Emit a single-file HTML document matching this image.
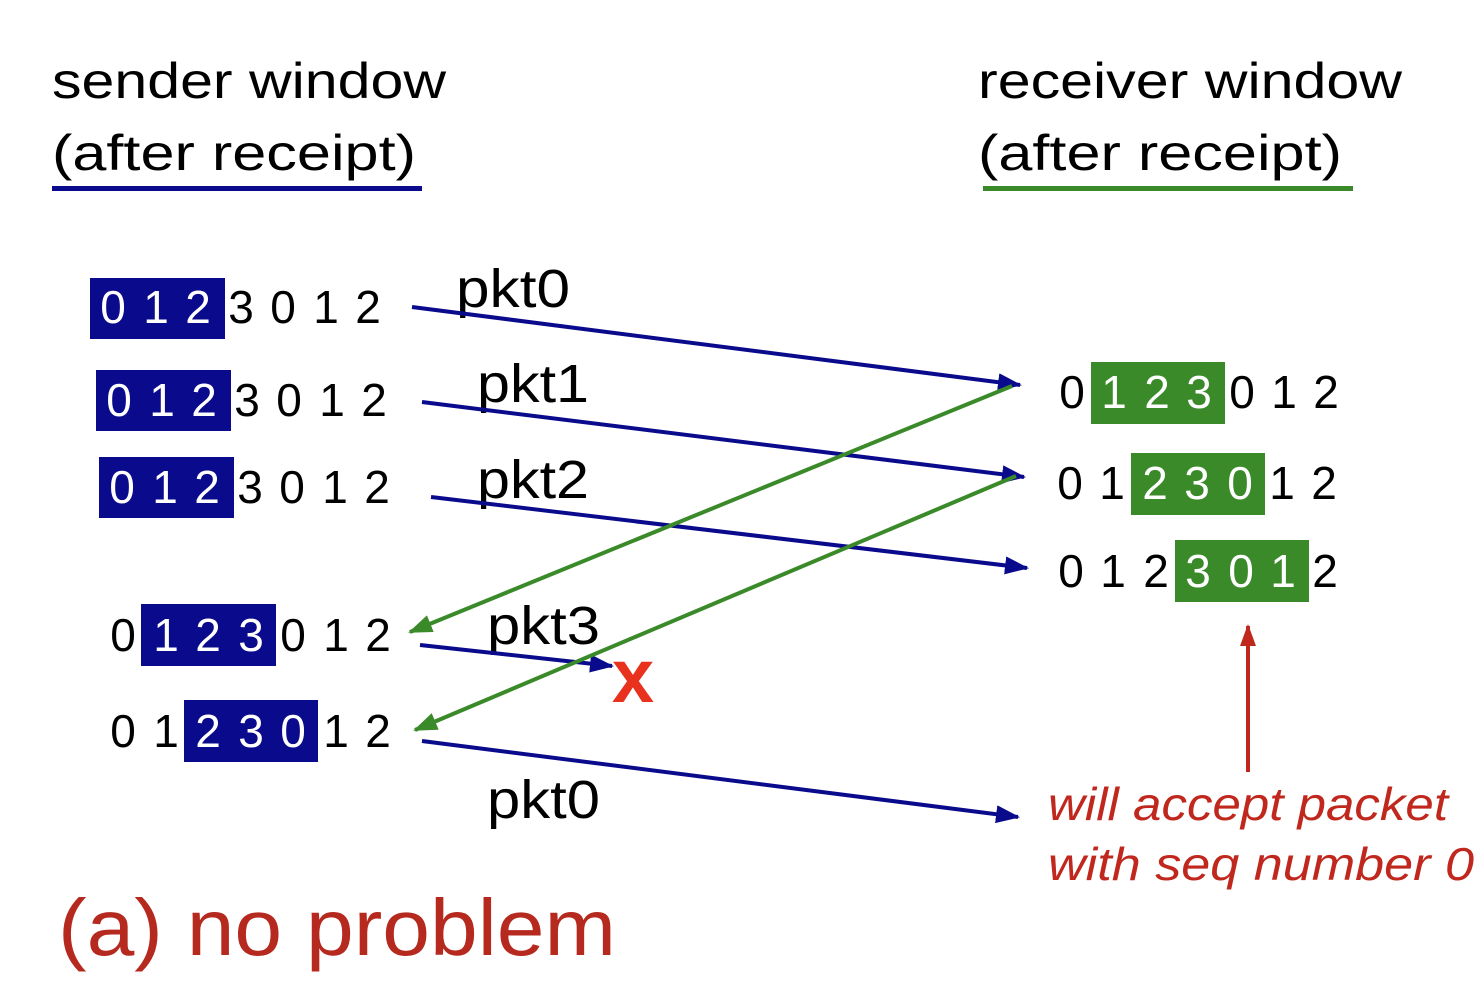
<!DOCTYPE html>
<html><head><meta charset="utf-8"><style>
html,body{margin:0;padding:0;background:#fff;}
svg{display:block;font-family:"Liberation Sans",sans-serif;}
</style></head><body>
<svg width="1478" height="1000" viewBox="0 0 1478 1000" xmlns="http://www.w3.org/2000/svg">
<defs>
<marker id="ab" markerWidth="24" markerHeight="18" refX="22" refY="9" orient="auto" markerUnits="userSpaceOnUse" viewBox="0 0 24 18"><path d="M0,0 L24,9 L0,18 z" fill="#0a0a8c"/></marker>
<marker id="ag" markerWidth="24" markerHeight="18" refX="22" refY="9" orient="auto" markerUnits="userSpaceOnUse" viewBox="0 0 24 18"><path d="M0,0 L24,9 L0,18 z" fill="#3a8a2a"/></marker>
<marker id="ar" markerWidth="22" markerHeight="16" refX="20" refY="8" orient="auto" markerUnits="userSpaceOnUse" viewBox="0 0 22 16"><path d="M0,0 L22,8 L0,16 z" fill="#c0281e"/></marker>
</defs>
<g font-size="50" fill="#000">
<text x="52" y="98" textLength="394" lengthAdjust="spacingAndGlyphs">sender window</text>
<text x="52" y="170" textLength="364" lengthAdjust="spacingAndGlyphs">(after receipt)</text>
<text x="978" y="98" textLength="424" lengthAdjust="spacingAndGlyphs">receiver window</text>
<text x="978" y="170" textLength="364" lengthAdjust="spacingAndGlyphs">(after receipt)</text>
</g>
<rect x="52" y="186" width="370" height="5" fill="#0a0a8c"/>
<rect x="983" y="186" width="370" height="5" fill="#3a8a2a"/>
<rect x="90" y="278" width="135" height="61" fill="#0a0a8c"/>
<rect x="96" y="370" width="135" height="61" fill="#0a0a8c"/>
<rect x="99" y="457" width="135" height="61" fill="#0a0a8c"/>
<rect x="141" y="604" width="135" height="62" fill="#0a0a8c"/>
<rect x="184" y="700" width="134" height="62" fill="#0a0a8c"/>
<rect x="1091" y="362" width="134" height="62" fill="#3a8a2a"/>
<rect x="1131" y="453" width="134" height="62" fill="#3a8a2a"/>
<rect x="1175" y="540" width="134" height="62" fill="#3a8a2a"/>
<g font-size="46" text-anchor="middle">
<g fill="#fff"><text x="113" y="323">0</text><text x="156" y="323">1</text><text x="198" y="323">2</text></g>
<g fill="#000"><text x="241" y="323">3</text><text x="283" y="323">0</text><text x="326" y="323">1</text><text x="368" y="323">2</text></g>
<g fill="#fff"><text x="119" y="416">0</text><text x="162" y="416">1</text><text x="204" y="416">2</text></g>
<g fill="#000"><text x="247" y="416">3</text><text x="289" y="416">0</text><text x="332" y="416">1</text><text x="374" y="416">2</text></g>
<g fill="#fff"><text x="122" y="503">0</text><text x="165" y="503">1</text><text x="207" y="503">2</text></g>
<g fill="#000"><text x="250" y="503">3</text><text x="292" y="503">0</text><text x="335" y="503">1</text><text x="377" y="503">2</text></g>
<g fill="#000"><text x="123" y="651">0</text></g>
<g fill="#fff"><text x="166" y="651">1</text><text x="208" y="651">2</text><text x="251" y="651">3</text></g>
<g fill="#000"><text x="293" y="651">0</text><text x="336" y="651">1</text><text x="378" y="651">2</text></g>
<g fill="#000"><text x="123" y="747">0</text><text x="166" y="747">1</text></g>
<g fill="#fff"><text x="208" y="747">2</text><text x="251" y="747">3</text><text x="293" y="747">0</text></g>
<g fill="#000"><text x="336" y="747">1</text><text x="378" y="747">2</text></g>
<g fill="#000"><text x="1072" y="408">0</text></g>
<g fill="#fff"><text x="1114" y="408">1</text><text x="1157" y="408">2</text><text x="1199" y="408">3</text></g>
<g fill="#000"><text x="1242" y="408">0</text><text x="1284" y="408">1</text><text x="1326" y="408">2</text></g>
<g fill="#000"><text x="1070" y="499">0</text><text x="1112" y="499">1</text></g>
<g fill="#fff"><text x="1155" y="499">2</text><text x="1197" y="499">3</text><text x="1240" y="499">0</text></g>
<g fill="#000"><text x="1282" y="499">1</text><text x="1324" y="499">2</text></g>
<g fill="#000"><text x="1071" y="587">0</text><text x="1113" y="587">1</text><text x="1156" y="587">2</text></g>
<g fill="#fff"><text x="1198" y="587">3</text><text x="1241" y="587">0</text><text x="1283" y="587">1</text></g>
<g fill="#000"><text x="1325" y="587">2</text></g>
</g>
<g font-size="54" fill="#000">
<text x="456" y="307" textLength="114" lengthAdjust="spacingAndGlyphs">pkt0</text>
<text x="477" y="402" textLength="112" lengthAdjust="spacingAndGlyphs">pkt1</text>
<text x="477" y="498" textLength="112" lengthAdjust="spacingAndGlyphs">pkt2</text>
<text x="487" y="644" textLength="113" lengthAdjust="spacingAndGlyphs">pkt3</text>
<text x="487" y="818" textLength="113" lengthAdjust="spacingAndGlyphs">pkt0</text>
</g>
<g stroke="#0a0a8c" stroke-width="4" fill="none">
<line x1="412" y1="307" x2="1020" y2="385" marker-end="url(#ab)"/>
<line x1="422" y1="402" x2="1024" y2="477" marker-end="url(#ab)"/>
<line x1="431" y1="497" x2="1027" y2="568" marker-end="url(#ab)"/>
<line x1="420" y1="645" x2="612" y2="666" marker-end="url(#ab)"/>
<line x1="422" y1="741" x2="1018" y2="817" marker-end="url(#ab)"/>
</g>
<g stroke="#3a8a2a" stroke-width="4" fill="none">
<line x1="1012" y1="386" x2="410" y2="632" marker-end="url(#ag)"/>
<line x1="1016" y1="476" x2="415" y2="730" marker-end="url(#ag)"/>
</g>
<line x1="1248" y1="772" x2="1248" y2="626" stroke="#c0281e" stroke-width="4" marker-end="url(#ar)"/>
<text x="633" y="702" font-size="76" font-weight="bold" fill="#e8321e" text-anchor="middle">x</text>
<g font-size="46" font-style="italic" fill="#c0281e">
<text x="1048" y="820" textLength="400" lengthAdjust="spacingAndGlyphs">will accept packet</text>
<text x="1048" y="880" textLength="426" lengthAdjust="spacingAndGlyphs">with seq number 0</text>
</g>
<text x="58" y="955" font-size="80" fill="#b5291e" textLength="558" lengthAdjust="spacingAndGlyphs">(a) no problem</text>
</svg>
</body></html>
